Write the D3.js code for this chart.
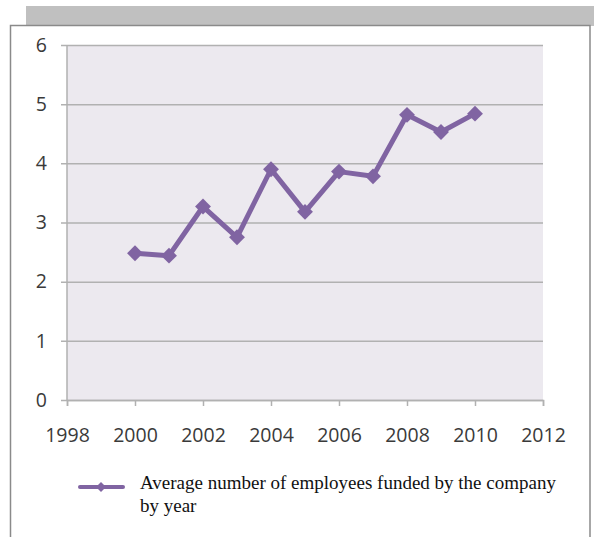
<!DOCTYPE html>
<html>
<head>
<meta charset="utf-8">
<script src="https://cdn.jsdelivr.net/npm/d3@7"></script>
<style>
  html, body { margin: 0; padding: 0; background: #fff; }
  svg { display: block; }
</style>
</head>
<body>
<svg id="chart" width="594" height="537"></svg>
<script>
// Yearly averages
const years = [2000, 2001, 2002, 2003, 2004, 2005, 2006, 2007, 2008, 2009, 2010];
const employees = [2.48, 2.44, 3.27, 2.75, 3.90, 3.18, 3.86, 3.78, 4.82, 4.53, 4.84];
const xTicks = [1998, 2000, 2002, 2004, 2006, 2008, 2010, 2012];
const yTicks = [0, 1, 2, 3, 4, 5, 6];
const seriesName = ["Average number of employees funded by the company", "by year"];

const svg = d3.select("#chart");
const purple = "#8064a2";
const gridGrey = "#b1b1b1";
const axisFont = "'Open Sans', 'DejaVu Sans', sans-serif";

// Outer frame: grey strip behind, bordered white card in front
svg.append("rect").attr("x", 26).attr("y", 6).attr("width", 568).attr("height", 20).attr("fill", "#c0c0c0");
svg.append("rect").attr("x", 10.5).attr("y", 25.5).attr("width", 579.5).attr("height", 520)
  .attr("fill", "#fff").attr("stroke", "#8a8a8a").attr("stroke-width", 1.5);

const plotL = 67, plotR = 543, plotT = 45, plotB = 400;
const x = d3.scaleLinear().domain([1998, 2012]).range([plotL, plotR]);
const y = d3.scaleLinear().domain([0, 6]).range([plotB, plotT]);

// Plot background
svg.append("rect").attr("x", plotL).attr("y", plotT).attr("width", plotR - plotL).attr("height", plotB - plotT)
  .attr("fill", "#ece9ef");

// Horizontal gridlines with left tick marks
const yAxis = d3.axisLeft(y).tickValues(yTicks).tickFormat(d3.format("d"))
  .tickSize(-(plotR - plotL)).tickPadding(20);
const gy = svg.append("g").attr("transform", `translate(${plotL},0)`).call(yAxis);
gy.select(".domain").remove();
gy.selectAll(".tick line").attr("stroke", gridGrey).attr("stroke-width", 1.5).attr("x1", -6);
gy.selectAll(".tick text").attr("font-family", axisFont).attr("font-size", 19.5).attr("fill", "#3a3a3a");

// X axis with downward ticks
const xAxis = d3.axisBottom(x).tickValues(xTicks).tickFormat(d3.format("d")).tickSize(6).tickPadding(22);
const gx = svg.append("g").attr("transform", `translate(0,${plotB})`).call(xAxis);
gx.select(".domain").attr("stroke", gridGrey).attr("stroke-width", 1.5);
gx.selectAll(".tick line").attr("stroke", gridGrey).attr("stroke-width", 1.5);
gx.selectAll(".tick text").attr("font-family", axisFont).attr("font-size", 19.5).attr("fill", "#3a3a3a");

// Vertical axis line
svg.append("line").attr("x1", plotL).attr("x2", plotL).attr("y1", plotT).attr("y2", plotB)
  .attr("stroke", gridGrey).attr("stroke-width", 1.5);

// Series line
const pts = years.map((yr, i) => [yr, employees[i]]);
svg.append("path").datum(pts)
  .attr("fill", "none").attr("stroke", purple).attr("stroke-width", 5).attr("stroke-linejoin", "round")
  .attr("d", d3.line().x(d => x(d[0])).y(d => y(d[1])));

// Diamond markers
const diamond = d3.symbol().type(d3.symbolDiamond2).size(160);
svg.selectAll(".marker").data(pts).join("path")
  .attr("class", "marker")
  .attr("transform", d => `translate(${x(d[0])},${y(d[1])})`)
  .attr("d", diamond).attr("fill", purple);

// Legend
const lg = svg.append("g");
lg.append("line").attr("x1", 80).attr("x2", 123).attr("y1", 487).attr("y2", 487)
  .attr("stroke", purple).attr("stroke-width", 4).attr("stroke-linecap", "round");
lg.append("path").attr("transform", "translate(101,487)")
  .attr("d", d3.symbol().type(d3.symbolDiamond2).size(64)).attr("fill", purple);
lg.selectAll("text").data(seriesName).join("text")
  .attr("x", 140).attr("y", (d, i) => 489 + i * 23)
  .attr("font-family", "'Liberation Serif', 'Times New Roman', serif")
  .attr("font-size", 19).attr("fill", "#111").text(d => d);
</script>
</body>
</html>
